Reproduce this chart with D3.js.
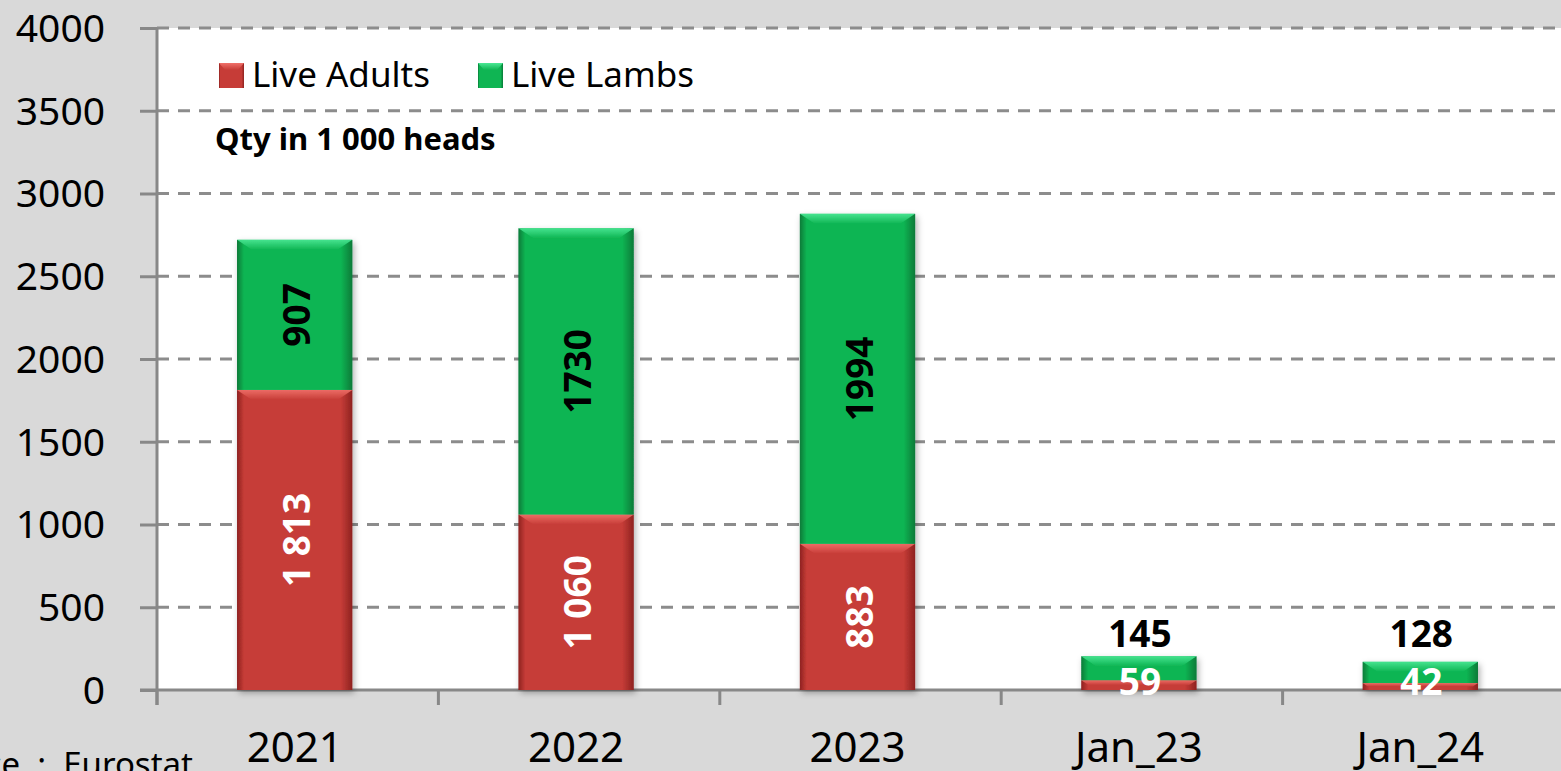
<!DOCTYPE html>
<html>
<head>
<meta charset="utf-8">
<script src="https://cdn.jsdelivr.net/npm/d3@7"></script>
<style>
  body { margin: 0; background: #d9d9d9; overflow: hidden; }
  text { font-family: "Noto Sans", "Open Sans", sans-serif; }
</style>
</head>
<body>
<div id="chart"></div>
<script>
// chart data
var categories = ["2021", "2022", "2023", "Jan_23", "Jan_24"];
var liveAdults = [1813, 1060, 883, 59, 42];
var liveLambs = [907, 1730, 1994, 145, 128];
var yTicks = [0, 500, 1000, 1500, 2000, 2500, 3000, 3500, 4000];
var seriesNames = ["Live Adults", "Live Lambs"];

var width = 1561, height = 771;
var plotLeft = 157, plotTop = 28, plotBottom = 690, plotRight = 1564;

var svg = d3.select("#chart").append("svg")
  .attr("width", width)
  .attr("height", height);

var defs = svg.append("defs");

// bevel-ish gradients for the bars
function barGradients(id, light, mid, dark) {
  var h = defs.append("linearGradient").attr("id", id + "-h")
    .attr("x1", 0).attr("x2", 1).attr("y1", 0).attr("y2", 0);
  h.append("stop").attr("offset", "0%").attr("stop-color", dark);
  h.append("stop").attr("offset", "6%").attr("stop-color", mid);
  h.append("stop").attr("offset", "90%").attr("stop-color", mid);
  h.append("stop").attr("offset", "100%").attr("stop-color", dark);
  var v = defs.append("linearGradient").attr("id", id + "-v")
    .attr("x1", 0).attr("x2", 0).attr("y1", 0).attr("y2", 1);
  v.append("stop").attr("offset", "0%").attr("stop-color", light);
  v.append("stop").attr("offset", "100%").attr("stop-color", mid);
}
barGradients("red", "#f0716a", "#c63c37", "#8e2220");
barGradients("green", "#4be895", "#0fb553", "#087a38");

var shadow = defs.append("filter").attr("id", "shadow")
  .attr("x", "-20%").attr("y", "-20%").attr("width", "140%").attr("height", "140%");
shadow.append("feDropShadow").attr("dx", 2).attr("dy", 3)
  .attr("stdDeviation", 3).attr("flood-color", "#000").attr("flood-opacity", 0.3);

// plot area
svg.append("rect")
  .attr("x", plotLeft).attr("y", plotTop)
  .attr("width", plotRight - plotLeft).attr("height", plotBottom - plotTop)
  .attr("fill", "#ffffff");

var x = d3.scaleBand()
  .domain(categories)
  .range([plotLeft, plotRight]);

var y = d3.scaleLinear()
  .domain([0, 4000])
  .range([plotBottom, plotTop]);

var barW = x.bandwidth() * 0.41;
var barShift = -3; // bars sit a touch left of the band centre

// gridlines
svg.append("g")
  .selectAll("line")
  .data(yTicks.filter(function(d) { return d > 0; }))
  .enter()
  .append("line")
  .attr("x1", plotLeft).attr("x2", width)
  .attr("y1", function(d) { return y(d); })
  .attr("y2", function(d) { return y(d); })
  .attr("stroke", "#8c8c8c")
  .attr("stroke-width", 3)
  .attr("stroke-dasharray", "12,9");

// y axis
var yAxis = d3.axisLeft(y).tickValues(yTicks).tickFormat(d3.format("d"))
  .tickSize(17).tickPadding(35);
var gy = svg.append("g")
  .attr("transform", "translate(" + plotLeft + ",0)")
  .call(yAxis);
gy.select(".domain").attr("stroke", "#888").attr("stroke-width", 3)
  .attr("d", "M0," + plotTop + "V" + (plotBottom + 15));
gy.selectAll(".tick line").attr("stroke", "#888").attr("stroke-width", 3);
gy.selectAll(".tick text")
  .attr("fill", "#000")
  .style("font-size", "39px")
  .style("font-family", "'Noto Sans', sans-serif")
  .attr("dy", "0.34em");

// x axis
var gx = svg.append("g");
gx.append("line")
  .attr("x1", plotLeft - 17).attr("x2", width)
  .attr("y1", plotBottom).attr("y2", plotBottom)
  .attr("stroke", "#888").attr("stroke-width", 3);
gx.selectAll(".xtick")
  .data(categories)
  .enter()
  .append("line")
  .attr("class", "xtick")
  .attr("x1", function(d) { return x(d); })
  .attr("x2", function(d) { return x(d); })
  .attr("y1", plotBottom).attr("y2", plotBottom + 15)
  .attr("stroke", "#888").attr("stroke-width", 3);
gx.selectAll(".xlabel")
  .data(categories)
  .enter()
  .append("text")
  .attr("class", "xlabel")
  .attr("x", function(d) { return x(d) + x.bandwidth() / 2 + barShift; })
  .attr("y", 762)
  .attr("text-anchor", "middle")
  .style("font-size", "42px")
  .text(function(d) { return d; });

// stacked bars
var rows = categories.map(function(c, i) {
  return { cat: c, adults: liveAdults[i], lambs: liveLambs[i] };
});
var stack = d3.stack().keys(["adults", "lambs"])(rows);
var fills = { adults: "red", lambs: "green" };

function barX(cat) {
  return x(cat) + (x.bandwidth() - barW) / 2 + barShift;
}

var bars = svg.append("g").attr("filter", "url(#shadow)");
stack.forEach(function(layer) {
  var g = bars.append("g");
  g.selectAll("rect.body")
    .data(layer)
    .enter()
    .append("rect")
    .attr("x", function(d) { return barX(d.data.cat); })
    .attr("y", function(d) { return y(d[1]); })
    .attr("width", barW)
    .attr("height", function(d) { return y(d[0]) - y(d[1]); })
    .attr("fill", "url(#" + fills[layer.key] + "-h)");
  // top bevel strip
  g.selectAll("path.bevel")
    .data(layer)
    .enter()
    .append("path")
    .attr("d", function(d) {
      var x0 = barX(d.data.cat);
      var y0 = y(d[1]);
      var h = Math.min(10, (y(d[0]) - y(d[1])) * 0.5);
      return "M" + x0 + "," + y0 + "h" + barW + "l" + (-h * 1.5) + "," + h +
        "h" + (-(barW - h * 3)) + "Z";
    })
    .attr("fill", "url(#" + fills[layer.key] + "-v)")
    .attr("opacity", 0.9);
});

// data labels
var fmtSpace = d3.formatLocale({ decimal: ".", thousands: " ", grouping: [3], currency: ["", ""] }).format(",d");
var labels = svg.append("g")
  .style("font-weight", "bold")
  .style("font-size", "37px");

// small monthly bars share one label line above them
var smallRows = rows.filter(function(r) { return r.adults + r.lambs <= 1000; });
var smallTop = y(d3.max(smallRows, function(r) { return r.adults + r.lambs; })) - 9;

rows.forEach(function(r) {
  var cx = barX(r.cat) + barW / 2;
  var total = r.adults + r.lambs;
  if (total > 1000) {
    labels.append("text")
      .attr("transform", "translate(" + (cx + 2) + "," + y(r.adults / 2) + ") rotate(-90)")
      .attr("text-anchor", "middle")
      .attr("dy", "0.36em")
      .attr("fill", "#fff")
      .text(fmtSpace(r.adults));
    labels.append("text")
      .attr("transform", "translate(" + (cx + 2) + "," + y(r.adults + r.lambs / 2) + ") rotate(-90)")
      .attr("text-anchor", "middle")
      .attr("dy", "0.36em")
      .attr("fill", "#000")
      .text(r.lambs);
  } else {
    labels.append("text")
      .attr("x", cx + 1)
      .attr("y", y(0) + 5)
      .attr("text-anchor", "middle")
      .attr("fill", "#fff")
      .text(r.adults);
    labels.append("text")
      .attr("x", cx + 1)
      .attr("y", smallTop)
      .attr("text-anchor", "middle")
      .attr("fill", "#000")
      .text(r.lambs);
  }
});

// legend
var legend = svg.append("g");
var legendX = [219, 478];
seriesNames.forEach(function(name, i) {
  var key = i === 0 ? "red" : "green";
  legend.append("rect")
    .attr("x", legendX[i]).attr("y", 63)
    .attr("width", 25).attr("height", 25)
    .attr("fill", "url(#" + key + "-h)");
  legend.append("path")
    .attr("d", "M" + legendX[i] + ",63h25l-6,7h-13Z")
    .attr("fill", "url(#" + key + "-v)");
  legend.append("text")
    .attr("x", legendX[i] + 33)
    .attr("y", 87)
    .style("font-size", "35px")
    .text(name);
});

svg.append("text")
  .attr("x", 215).attr("y", 150)
  .style("font-size", "31px")
  .style("font-weight", "bold")
  .text("Qty in 1 000 heads");

svg.append("text")
  .attr("x", 193).attr("y", 776)
  .attr("text-anchor", "end")
  .style("font-size", "33px")
  .text("Source\u00a0\u00a0:\u00a0\u00a0Eurostat");
</script>
</body>
</html>
